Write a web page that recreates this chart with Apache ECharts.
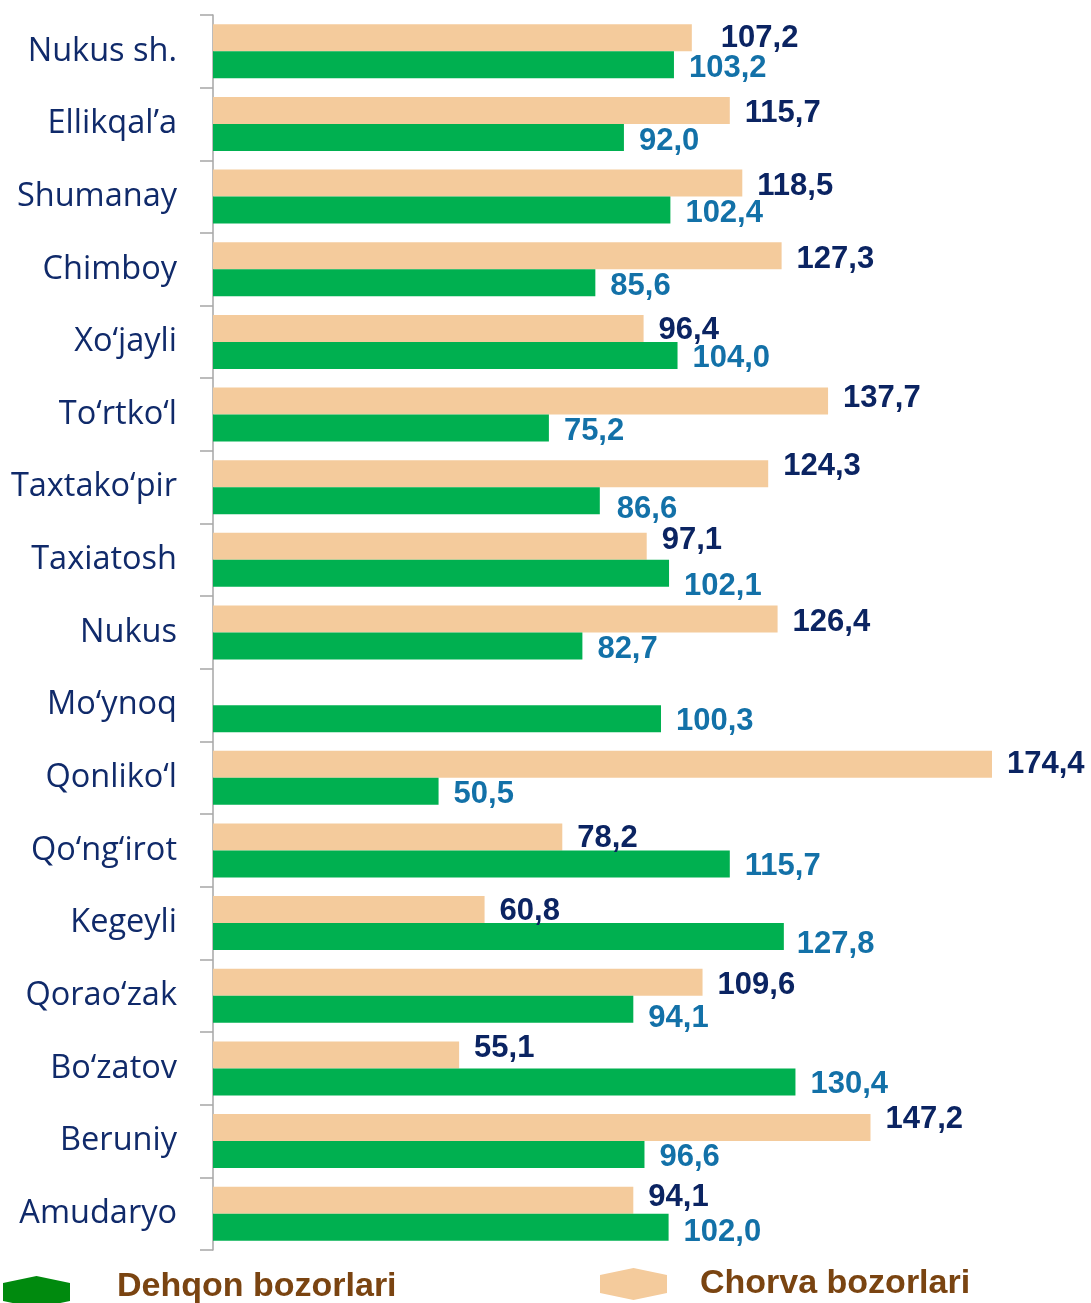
<!DOCTYPE html>
<html>
<head>
<meta charset="utf-8">
<script src="https://cdn.jsdelivr.net/npm/echarts@6/dist/echarts.min.js"></script>
<style>
  html, body { margin: 0; padding: 0; background: #fff; }
  #chart { width: 1091px; height: 1303px; }
</style>
</head>
<body>
<div id="chart"></div>
<script>
// hududlar
const regions = ['Nukus sh.', 'Ellikqal’a', 'Shumanay', 'Chimboy', 'Xo‘jayli', 'To‘rtko‘l', 'Taxtako‘pir',
  'Taxiatosh', 'Nukus', 'Mo‘ynoq', 'Qonliko‘l', 'Qo‘ng‘irot', 'Kegeyli', 'Qorao‘zak', 'Bo‘zatov', 'Beruniy', 'Amudaryo'];
// Chorva bozorlari
const chorva = [107.2, 115.7, 118.5, 127.3, 96.4, 137.7, 124.3, 97.1, 126.4, null, 174.4, 78.2, 60.8, 109.6, 55.1, 147.2, 94.1];
// Dehqon bozorlari
const dehqon = [103.2, 92.0, 102.4, 85.6, 104.0, 75.2, 86.6, 102.1, 82.7, 100.3, 50.5, 115.7, 127.8, 94.1, 130.4, 96.6, 102.0];

// label nudges [dx, dy], hand placed like the original
const chorvaNudge = [[14, -1.5], [0, 1], [0, 1], [0, 1.5], [0, 0], [0, -5], [0, -9], [0, -8], [0, 1], [0, 0],
  [0, -2], [0, 0], [0, 0], [0, 1], [0, -8], [0, -10], [0, -5]];
const dehqonNudge = [[0, 1.5], [0, 2], [0, 1], [0, 1.5], [0, 1], [0, 1], [2, 7], [0, 11], [0, 1], [0, 1],
  [0, 1], [0, 1], [-2, 6], [0, 7], [0, 1], [0, 1], [0, 3]];

const fmt = p => p.value == null ? '' : p.value.toFixed(1).replace('.', ',');

const toItems = (vals, nudge) => vals.map((v, i) => ({
  value: v == null ? '-' : v,
  label: { offset: [nudge[i][0], nudge[i][1] + 2] }
}));

const hexPath = 'path://M50,0 L100,22 L100,78 L50,100 L0,78 L0,22 Z';

// legend split in two: icon only, and text only (icon hidden), so each can sit where the original has it
const legendIcon = (name, left, top, color) => ({
  left: left, top: top, padding: 0,
  itemWidth: 67, itemHeight: 32,
  symbolKeepAspect: false,
  icon: hexPath,
  data: [name],
  formatter: ' ',
  itemStyle: color ? { color: color } : {}
});
const legendLabel = (name, left, top) => ({
  left: left, top: top, padding: 0,
  itemWidth: 0, itemHeight: 0,
  icon: 'rect',
  itemStyle: { opacity: 0 },
  data: [name],
  textStyle: { color: '#7A4411', fontFamily: 'Liberation Sans', fontWeight: 'bold', fontSize: 34, lineHeight: 34 }
});

const chart = echarts.init(document.getElementById('chart'));
chart.setOption({
  animation: false,
  grid: { left: 213, top: 15, bottom: 53, right: 74 },
  xAxis: {
    type: 'value',
    min: 0,
    max: 180,
    show: false
  },
  yAxis: {
    type: 'category',
    data: regions,
    inverse: true,
    axisLine: { show: true, lineStyle: { color: '#A6A6A6', width: 1.5 } },
    axisTick: { show: true, length: 13, lineStyle: { color: '#A6A6A6', width: 1.5 } },
    axisLabel: {
      margin: 36,
      color: '#102A6A',
      fontFamily: 'Open Sans',
      fontSize: 32.5
    },
    splitLine: { show: false }
  },
  legend: [
    legendIcon('Dehqon bozorlari', 3, 1276, '#008A0E'),
    legendLabel('Dehqon bozorlari', 112, 1270),
    legendIcon('Chorva bozorlari', 600, 1268),
    legendLabel('Chorva bozorlari', 695, 1267)
  ],
  series: [
    {
      name: 'Chorva bozorlari',
      type: 'bar',
      barWidth: 27,
      barGap: '0%',
      data: toItems(chorva, chorvaNudge),
      itemStyle: { color: '#F4CB9C' },
      label: {
        show: true, position: 'right', distance: 15, formatter: fmt,
        color: '#0B2462', fontFamily: 'Liberation Sans', fontWeight: 'bold', fontSize: 31
      }
    },
    {
      name: 'Dehqon bozorlari',
      type: 'bar',
      barWidth: 27,
      barGap: '0%',
      data: toItems(dehqon, dehqonNudge),
      itemStyle: { color: '#00B050' },
      label: {
        show: true, position: 'right', distance: 15, formatter: fmt,
        color: '#1371A8', fontFamily: 'Liberation Sans', fontWeight: 'bold', fontSize: 31
      }
    }
  ]
});
</script>
</body>
</html>
